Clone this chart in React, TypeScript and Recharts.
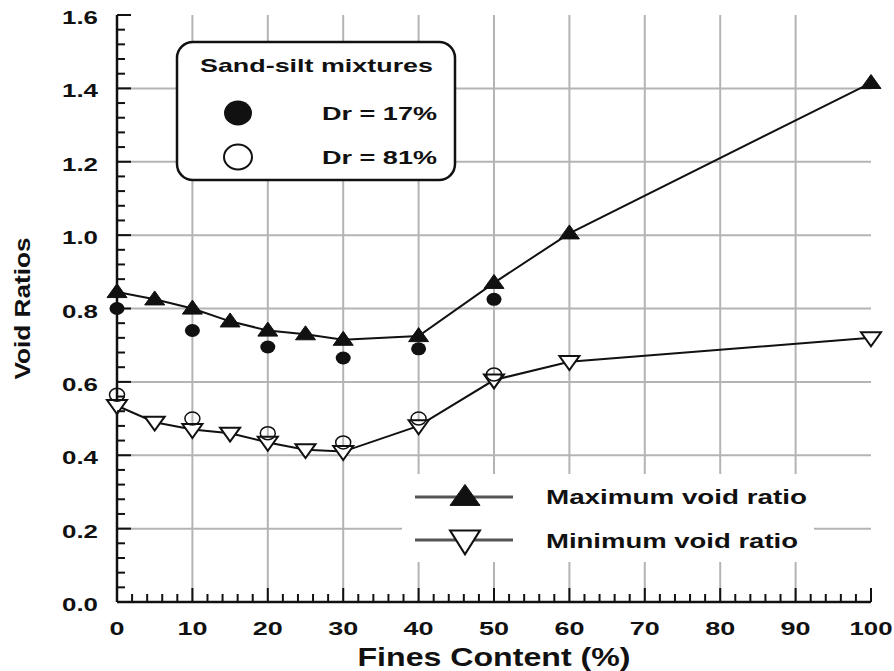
import { ComposedChart, Line, XAxis, YAxis, CartesianGrid } from 'recharts'

// fines content (%) where void ratios were measured
const fcVoid = [0, 5, 10, 15, 20, 25, 30, 40, 50, 60, 100]
const maxVoid = [0.845, 0.825, 0.8, 0.765, 0.74, 0.73, 0.715, 0.725, 0.87, 1.005, 1.415]
const minVoid = [0.535, 0.49, 0.47, 0.46, 0.435, 0.415, 0.41, 0.48, 0.605, 0.655, 0.72]

// sand-silt mixture samples
const fcSample = [0, 10, 20, 30, 40, 50]
const dr17 = [0.8, 0.74, 0.695, 0.665, 0.69, 0.825]
const dr81 = [0.565, 0.5, 0.46, 0.435, 0.5, 0.62]

const xMajor = [0, 10, 20, 30, 40, 50, 60, 70, 80, 90, 100]
const yMajor = [0, 0.2, 0.4, 0.6, 0.8, 1.0, 1.2, 1.4, 1.6]
const xMinor = Array.from({ length: 51 }, (_, i) => i * 2)
const yMinor = Array.from({ length: 41 }, (_, i) => (i * 4) / 100)

const maxData = fcVoid.map((x, i) => ({ x, y: maxVoid[i] }))
const minData = fcVoid.map((x, i) => ({ x, y: minVoid[i] }))
const d17Data = fcSample.map((x, i) => ({ x, y: dr17[i] }))
const d81Data = fcSample.map((x, i) => ({ x, y: dr81[i] }))

const FONT = '"Liberation Sans", Arial, sans-serif'
const INK = '#111'
const GRID = '#b4b4b4'
const MAJ = 14
const MIN = 8

const isMajorX = (v: number) => v % 10 === 0
const isMajorY = (v: number) => Math.round(v * 100) % 20 === 0

function BottomTick(props: any) {
  const { x, y, payload } = props
  const v = payload.value
  const major = isMajorX(v)
  const s = String(v)
  return (
    <g>
      <line x1={x} y1={y} x2={x} y2={y - (major ? MAJ : MIN)} stroke={INK} strokeWidth={2} />
      {major && (
        <text x={x} y={y + 33} textAnchor="middle" fontFamily={FONT} fontWeight="bold" fontSize={19} fill={INK}
          textLength={s.length === 1 ? 15 : s.length === 2 ? 30 : 43} lengthAdjust="spacingAndGlyphs">
          {s}
        </text>
      )}
    </g>
  )
}

function TopTick(props: any) {
  const { x, y, payload } = props
  const major = isMajorX(payload.value)
  return <line x1={x} y1={y} x2={x} y2={y + (major ? MAJ : MIN)} stroke={INK} strokeWidth={2} />
}

function LeftTick(props: any) {
  const { x, y, payload } = props
  const v = payload.value
  const major = isMajorY(v)
  return (
    <g>
      <line x1={x} y1={y} x2={x + (major ? MAJ : MIN)} y2={y} stroke={INK} strokeWidth={2} />
      {major && (
        <text x={x - 19} y={y + 9} textAnchor="end" fontFamily={FONT} fontWeight="bold" fontSize={19} fill={INK}
          textLength={36} lengthAdjust="spacingAndGlyphs">
          {v.toFixed(1)}
        </text>
      )}
    </g>
  )
}

function RightTick(props: any) {
  const { x, y, payload } = props
  const major = isMajorY(payload.value)
  return <line x1={x} y1={y} x2={x - (major ? MAJ : MIN)} y2={y} stroke={INK} strokeWidth={2} />
}

const TriUp = ({ cx, cy, w = 20, h = 14 }: any) => (
  <polygon points={`${cx},${cy - h * 0.6} ${cx + w / 2},${cy + h * 0.4} ${cx - w / 2},${cy + h * 0.4}`} fill={INK} stroke={INK} strokeWidth={1} />
)
const TriDown = ({ cx, cy, w = 20, h = 14 }: any) => (
  <polygon points={`${cx - w / 2},${cy - h * 0.4} ${cx + w / 2},${cy - h * 0.4} ${cx},${cy + h * 0.6}`} fill="#fff" stroke={INK} strokeWidth={2} />
)

export default function App() {
  return (
    <div style={{ position: 'absolute', left: 0, top: 0, background: '#fff' }}>
      <ComposedChart width={894} height={671} margin={{ top: 15, right: 23, bottom: 0, left: 0 }}>
        <CartesianGrid
          xAxisId="x" yAxisId="y"
          verticalValues={xMajor.slice(1, -1)} horizontalValues={yMajor.slice(1, -1)}
          stroke={GRID} strokeWidth={2}
        />
        <XAxis
          xAxisId="x" type="number" dataKey="x" domain={[0, 100]} ticks={xMinor} interval={0}
          height={69} tickSize={0} tickMargin={0} tickLine={false} tick={BottomTick}
          axisLine={{ stroke: INK, strokeWidth: 2.5 }}
          label={({ viewBox }: any) => (
            <text x={viewBox.x + viewBox.width / 2} y={viewBox.y + 64} textAnchor="middle" fontFamily={FONT}
              fontWeight="bold" fontSize={25} fill={INK} textLength={273} lengthAdjust="spacingAndGlyphs">
              Fines Content (%)
            </text>
          )}
        />
        <XAxis
          xAxisId="t" type="number" dataKey="x" orientation="top" domain={[0, 100]} ticks={xMinor} interval={0}
          height={0} tickSize={0} tickMargin={0} tickLine={false} tick={TopTick}
          axisLine={{ stroke: INK, strokeWidth: 2.5 }}
        />
        <YAxis
          yAxisId="y" type="number" dataKey="y" domain={[0, 1.6]} ticks={yMinor} interval={0}
          width={117} tickSize={0} tickMargin={0} tickLine={false} tick={LeftTick}
          axisLine={{ stroke: INK, strokeWidth: 2.5 }}
          label={({ viewBox }: any) => {
            const cy = viewBox.y + viewBox.height / 2
            return (
              <text x={30} y={cy} transform={`rotate(-90, 30, ${cy})`} textAnchor="middle" fontFamily={FONT}
                fontWeight="bold" fontSize={22} fill={INK} textLength={142} lengthAdjust="spacingAndGlyphs">
                Void Ratios
              </text>
            )
          }}
        />
        <YAxis
          yAxisId="r" type="number" dataKey="y" orientation="right" domain={[0, 1.6]} ticks={yMinor} interval={0}
          width={0} tickSize={0} tickMargin={0} tickLine={false} tick={RightTick}
          axisLine={{ stroke: INK, strokeWidth: 2.5 }}
        />

        {/* sample legend box */}
        <g>
          <rect x={177} y={42} width={278} height={138} rx={16} fill="#fff" stroke={INK} strokeWidth={2.5} />
          <text x={200} y={72} fontFamily={FONT} fontWeight="bold" fontSize={19} fill={INK} textLength={233} lengthAdjust="spacingAndGlyphs">
            Sand-silt mixtures
          </text>
          <ellipse cx={238} cy={113} rx={14} ry={12.5} fill={INK} />
          <text x={322} y={120} fontFamily={FONT} fontWeight="bold" fontSize={19} fill={INK} textLength={115} lengthAdjust="spacingAndGlyphs">
            Dr = 17%
          </text>
          <ellipse cx={238} cy={157} rx={14} ry={12.5} fill="#fff" stroke={INK} strokeWidth={2} />
          <text x={322} y={164} fontFamily={FONT} fontWeight="bold" fontSize={19} fill={INK} textLength={115} lengthAdjust="spacingAndGlyphs">
            Dr = 81%
          </text>
        </g>

        {/* series legend, on a white patch that hides the grid */}
        <g>
          <rect x={402} y={474} width={412} height={88} fill="#fff" />
          <line x1={415} y1={497} x2={513} y2={497} stroke="#555" strokeWidth={3} />
          <TriUp cx={465} cy={497} w={30} h={21} />
          <text x={546} y={504} fontFamily={FONT} fontWeight="bold" fontSize={20} fill={INK} textLength={261} lengthAdjust="spacingAndGlyphs">
            Maximum void ratio
          </text>
          <line x1={415} y1={540} x2={513} y2={540} stroke="#555" strokeWidth={3} />
          <TriDown cx={465} cy={540} w={30} h={24} />
          <text x={546} y={548} fontFamily={FONT} fontWeight="bold" fontSize={20} fill={INK} textLength={252} lengthAdjust="spacingAndGlyphs">
            Minimum void ratio
          </text>
        </g>

        {/* invisible item so the top/right frame axes get drawn */}
        <Line xAxisId="t" yAxisId="r" data={maxData} dataKey="y" stroke="none" dot={false} activeDot={false} isAnimationActive={false} />

        <Line
          xAxisId="x" yAxisId="y" data={maxData} dataKey="y" name="Maximum void ratio"
          stroke={INK} strokeWidth={2} isAnimationActive={false}
          dot={(p: any) => <TriUp key={`mx${p.index}`} cx={p.cx} cy={p.cy} />}
          activeDot={false}
        />
        <Line
          xAxisId="x" yAxisId="y" data={minData} dataKey="y" name="Minimum void ratio"
          stroke={INK} strokeWidth={2} isAnimationActive={false}
          dot={(p: any) => <TriDown key={`mn${p.index}`} cx={p.cx} cy={p.cy} />}
          activeDot={false}
        />
        <Line
          xAxisId="x" yAxisId="y" data={d17Data} dataKey="y" name="Dr = 17%"
          stroke="none" isAnimationActive={false}
          dot={(p: any) => <ellipse key={`a${p.index}`} cx={p.cx} cy={p.cy} rx={7.5} ry={6.5} fill={INK} />}
          activeDot={false}
        />
        <Line
          xAxisId="x" yAxisId="y" data={d81Data} dataKey="y" name="Dr = 81%"
          stroke="none" isAnimationActive={false}
          dot={(p: any) => <ellipse key={`b${p.index}`} cx={p.cx} cy={p.cy} rx={7.5} ry={6.5} fill="none" stroke={INK} strokeWidth={1.5} />}
          activeDot={false}
        />
      </ComposedChart>
    </div>
  )
}
